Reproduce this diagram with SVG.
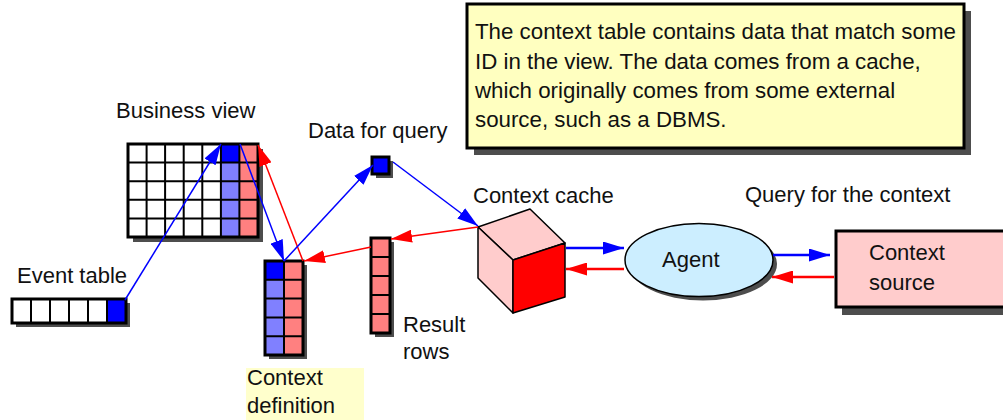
<svg xmlns="http://www.w3.org/2000/svg" width="1003" height="420" viewBox="0 0 1003 420">
<style>
text{font-family:"Liberation Sans",Arial,sans-serif;font-size:22px;fill:#111}
.nt{font-size:22.3px}
.sh{fill:#4d4d4d}
.cw{fill:#fff}
.cb{fill:#0000ff}
.clb{fill:#8080ff}
.cp{fill:#ff8080}
.gl{stroke:#000;stroke-width:2;fill:none}
.ob{stroke:#000;stroke-width:3;fill:none}
.bl{stroke:#0000ff;fill:none}
.rd{stroke:#ff0000;fill:none}
</style>
<defs>
<marker id="ab" markerUnits="userSpaceOnUse" markerWidth="21" markerHeight="13" refX="21" refY="6.5" orient="auto"><path d="M0,0 L21,6.5 L0,13 z" fill="#0000ff"/></marker>
<marker id="ar" markerUnits="userSpaceOnUse" markerWidth="21" markerHeight="13" refX="21" refY="6.5" orient="auto"><path d="M0,0 L21,6.5 L0,13 z" fill="#ff0000"/></marker>
</defs>

<g id="note">
<rect class="sh" x="474" y="11" width="497" height="144"/>
<rect x="467" y="4" width="497" height="144" fill="#ffffc0" stroke="#000" stroke-width="3"/>
<text class="nt" x="475" y="39">The context table contains data that match some</text>
<text class="nt" x="475" y="68.5">ID in the view. The data comes from a cache,</text>
<text class="nt" x="475" y="98">which originally comes from some external</text>
<text class="nt" x="475" y="127">source, such as a DBMS.</text>
</g>

<g id="business-view">
<text x="116" y="118">Business view</text>
<rect class="sh" x="133" y="149" width="130" height="93"/>
<rect class="cw" x="128" y="144" width="130" height="93"/>
<rect class="clb" x="221" y="144" width="18.5" height="93"/>
<rect class="cp" x="239.5" y="144" width="18.5" height="93"/>
<rect class="cb" x="221" y="144" width="18.5" height="18.6"/>
<path class="gl" d="M146.6,144V237M165.1,144V237M183.7,144V237M202.3,144V237M220.9,144V237M239.4,144V237M128,162.6H258M128,181.2H258M128,199.8H258M128,218.4H258"/>
<rect class="ob" x="128" y="144" width="130" height="93"/>
</g>

<g id="event-table">
<text x="17" y="283">Event table</text>
<rect class="sh" x="16" y="303" width="114" height="24"/>
<rect class="cw" x="12" y="299" width="114" height="24"/>
<rect class="cb" x="107" y="299" width="19" height="24"/>
<path class="gl" d="M31,299V323M50,299V323M69,299V323M88,299V323M107,299V323"/>
<rect class="ob" x="12" y="299" width="114" height="24"/>
</g>

<g id="context-definition">
<rect class="sh" x="269" y="265" width="38" height="94"/>
<rect class="clb" x="265" y="261" width="19" height="94"/>
<rect class="cp" x="284" y="261" width="19" height="94"/>
<rect class="cb" x="265" y="261" width="19" height="19"/>
<path class="gl" d="M284,261V355M265,279.8H303M265,298.6H303M265,317.4H303M265,336.2H303"/>
<rect class="ob" x="265" y="261" width="38" height="94"/>
<rect x="246" y="368" width="118" height="52" fill="#ffffcc"/>
<text x="247" y="385">Context</text>
<text x="247" y="413">definition</text>
</g>

<g id="data-for-query">
<text x="308" y="138">Data for query</text>
<rect class="sh" x="376" y="161" width="17" height="17"/>
<rect x="372" y="157" width="17" height="17" fill="#0000ff" stroke="#000" stroke-width="3"/>
</g>

<g id="result-rows">
<rect class="sh" x="375" y="242" width="19" height="95"/>
<rect class="cp" x="371" y="238" width="19" height="95"/>
<path class="gl" d="M371,257H390M371,276H390M371,295H390M371,314H390"/>
<rect class="ob" x="371" y="238" width="19" height="95"/>
<text x="403" y="332">Result</text>
<text x="403" y="359">rows</text>
</g>

<g id="context-cache">
<text x="473" y="203">Context cache</text>
<path d="M478,227 L530,209 L565,243 L513,260 Z" fill="#ffcccc" stroke="#000" stroke-width="1.5" stroke-linejoin="round"/>
<path d="M478,227 L513,260 L513,313 L478,278 Z" fill="#ffcccc" stroke="#000" stroke-width="1.5" stroke-linejoin="round"/>
<path d="M513,260 L565,243 L565,297 L513,313 Z" fill="#ff0000" stroke="#000" stroke-width="1.5" stroke-linejoin="round"/>
</g>

<g id="agent">
<ellipse cx="703" cy="264" rx="74" ry="36.5" class="sh"/>
<ellipse cx="699" cy="260" rx="74" ry="36.5" fill="#cceeff" stroke="#000" stroke-width="1.5"/>
<text x="662" y="267">Agent</text>
</g>

<g id="context-source">
<text x="745" y="202">Query for the context</text>
<rect class="sh" x="842" y="238" width="170" height="77"/>
<rect x="836" y="231" width="175" height="76" fill="#ffcccc" stroke="#000" stroke-width="3"/>
<text x="869" y="260">Context</text>
<text x="869" y="290">source</text>
</g>

<g id="connectors">
<line class="bl" stroke-width="1.5" x1="125" y1="300" x2="221" y2="144" marker-end="url(#ab)"/>
<line class="bl" stroke-width="1.5" x1="240" y1="144" x2="284" y2="261" marker-end="url(#ab)"/>
<line class="rd" stroke-width="1.5" x1="303" y1="261" x2="258" y2="145" marker-end="url(#ar)"/>
<line class="bl" stroke-width="1.5" x1="284" y1="261" x2="373" y2="165" marker-end="url(#ab)"/>
<line class="bl" stroke-width="1.5" x1="393" y1="162" x2="478" y2="226" marker-end="url(#ab)"/>
<line class="rd" stroke-width="1.5" x1="478" y1="227" x2="391" y2="239" marker-end="url(#ar)"/>
<line class="rd" stroke-width="1.5" x1="371" y1="247" x2="304" y2="261" marker-end="url(#ar)"/>
<line class="bl" stroke-width="2.5" x1="566" y1="248" x2="624" y2="248" marker-end="url(#ab)"/>
<line class="rd" stroke-width="2.5" x1="624" y1="269" x2="566" y2="269" marker-end="url(#ar)"/>
<line class="bl" stroke-width="2.5" x1="773" y1="255" x2="830" y2="255" marker-end="url(#ab)"/>
<line class="rd" stroke-width="2.5" x1="834" y1="277" x2="772" y2="277" marker-end="url(#ar)"/>
</g>
</svg>
